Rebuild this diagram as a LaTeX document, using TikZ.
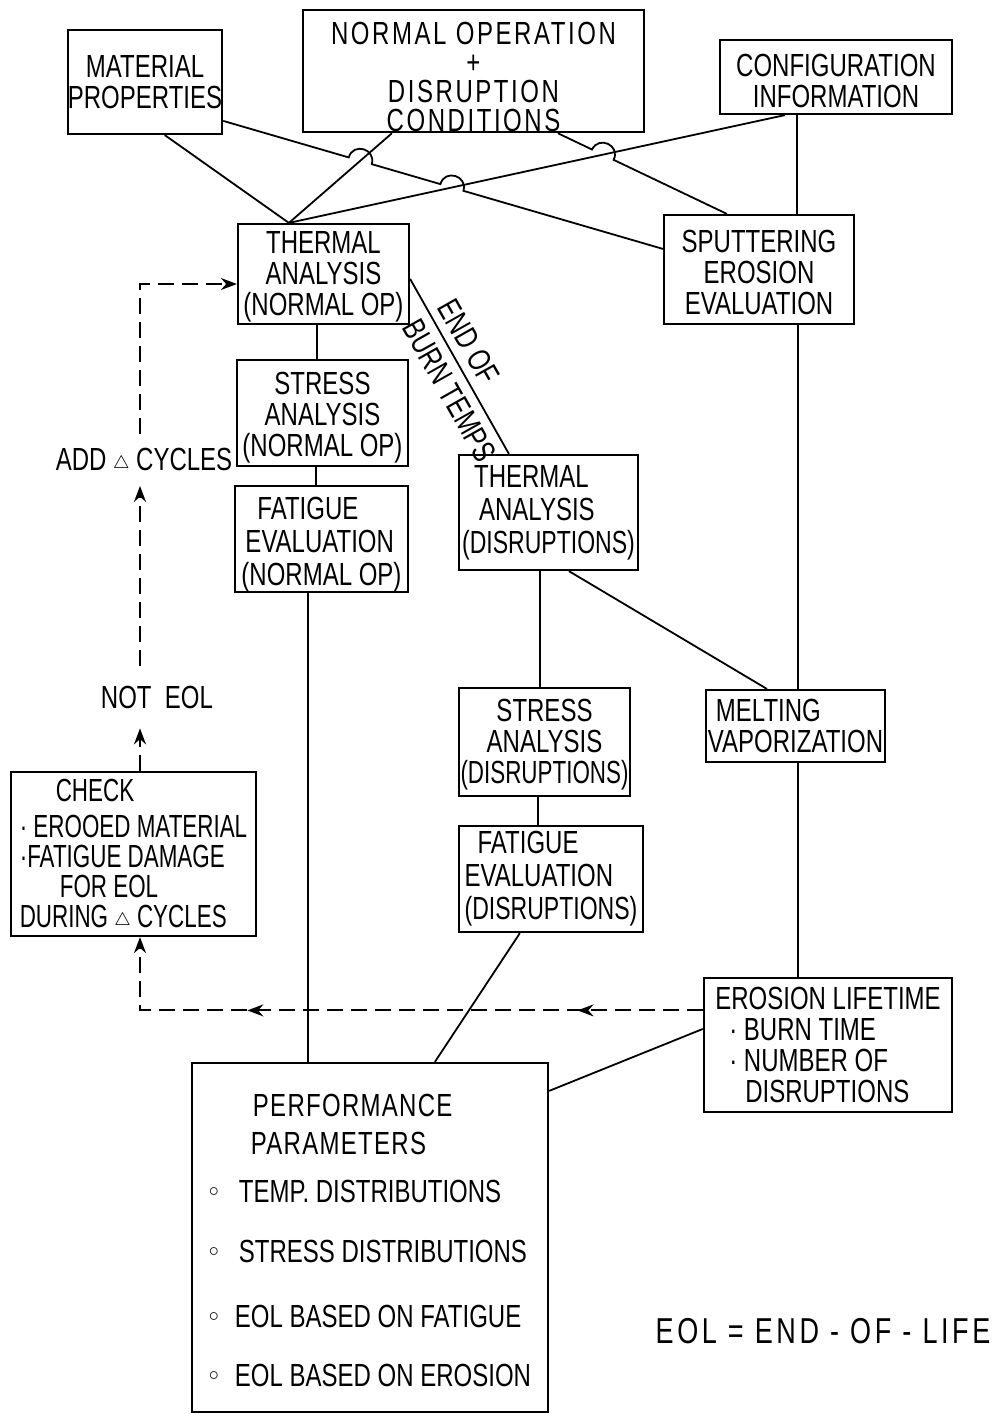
\documentclass[tikz,border=0pt]{standalone}
\usepackage{fontspec}
\setmainfont{Liberation Sans}[FakeStretch=0.75]
\newfontfamily\condf{Liberation Sans}[FakeStretch=0.7]
\newfontfamily\semif{Liberation Sans}[FakeStretch=0.72]
\usetikzlibrary{calc,arrows.meta,decorations.markings}
\newcommand\fs{\fontsize{16}{15.5}\selectfont}
\newcommand\tri{\raisebox{1pt}{\fontsize{9}{9}\selectfont$\triangle$}}
\newcommand\bul{\raisebox{3pt}{\fontsize{10}{10}\selectfont$\circ$}}
\newcommand\up[1]{\rule{0pt}{#1}}
\tikzset{
  box/.style={draw, line width=1.1pt, inner sep=0pt, align=center, font=\fs},
  lbl/.style={inner sep=0pt, align=center, font=\fs},
  conn/.style={line width=0.9pt},
  dsh/.style={line width=1pt, dash pattern=on 8pt off 4pt},
  tip/.style={-{Stealth[length=8pt,width=6pt]}},
}
\begin{document}
\begin{tikzpicture}[x=0.5pt,y=0.5pt]
\useasboundingbox (0,0) rectangle (997,-1414);
% boxes
\node[box, minimum width=77pt, minimum height=52pt] (mat) at (145,-82) {MATERIAL\\PROPERTIES};
\node[box, minimum width=170.5pt, minimum height=61pt, font={\fontsize{16}{14.5}\selectfont\addfontfeature{LetterSpace=8}}] (norm) at (473.5,-71) {\up{17.5pt}NORMAL OPERATION\\+\\DISRUPTION\\CONDITIONS};
\node[box, minimum width=116pt, minimum height=37pt] (conf) at (836,-77) {\up{15.5pt}CONFIGURATION\\INFORMATION};
\node[box, minimum width=85.5pt, minimum height=50pt] (ta) at (323.5,-274) {\up{13.5pt}THERMAL\\ANALYSIS\\(NORMAL OP)};
\node[box, minimum width=95pt, minimum height=54.5pt] (sp) at (759,-269.5) {\up{14.5pt}SPUTTERING\\EROSION\\EVALUATION};
\node[box, minimum width=85.5pt, minimum height=53pt] (sa) at (322.5,-413) {\up{15.5pt}STRESS\\ANALYSIS\\(NORMAL OP)};
\node[box, minimum width=86.5pt, minimum height=52pt, align=left] (fa) at (321.5,-539) {\up{16.5pt}\hspace*{8pt}FATIGUE\\[1pt]\hspace*{2pt}EVALUATION\\[1pt](NORMAL OP)};
\node[box, minimum width=89.5pt, minimum height=57.5pt, align=left] (td) at (548.5,-512.5) {\hspace*{6pt}THERMAL\\[1pt]\hspace*{8.5pt}ANALYSIS\\[1pt]{\semif(DISRUPTIONS)}};
\node[box, minimum width=85.5pt, minimum height=54pt] (sd) at (544.5,-742) {\up{13.5pt}STRESS\\ANALYSIS\\{\condf(DISRUPTIONS)}};
\node[box, minimum width=89.5pt, minimum height=36pt, align=left] (mv) at (795.5,-726) {\hspace*{4pt}MELTING\\VAPORIZATION};
\node[box, minimum width=92pt, minimum height=53pt, align=left] (fd) at (551,-879) {\hspace*{6.5pt}FATIGUE\\[1pt]EVALUATION\\[1pt]{\semif(DISRUPTIONS)}};
\node[box, minimum width=122.5pt, minimum height=82pt, align=left, font={\fontsize{16}{15}\condf}] (check) at (133.5,-854) {\hspace*{18pt}CHECK\\[3pt]· EROOED MATERIAL\\·FATIGUE DAMAGE\\\hspace*{20pt}FOR EOL\\DURING \tri\ CYCLES};
\node[box, minimum width=124pt, minimum height=67pt, align=left] (el) at (828,-1045) {EROSION LIFETIME\\\hspace*{7pt}· BURN TIME\\\hspace*{7pt}· NUMBER OF\\\hspace*{15pt}DISRUPTIONS};
\node[box, minimum width=178pt, minimum height=174.5pt, align=left] (perf) at (370,-1237.5) {\up{14.5pt}\hspace*{22pt}{\addfontfeature{LetterSpace=4}PERFORMANCE}\\[3.5pt]\hspace*{21pt}{\addfontfeature{LetterSpace=4}PARAMETERS}\\[8.5pt]\bul\hspace{10pt}TEMP. DISTRIBUTIONS\\[14.5pt]\bul\hspace{10pt}STRESS DISTRIBUTIONS\\[17pt]\bul\hspace{8pt}EOL BASED ON FATIGUE\\[14pt]\bul\hspace{8pt}EOL BASED ON EROSION};
% labels
\node[lbl, outer ysep=10pt] (noteol) at (157,-697) {NOT\ \ EOL};
\node[lbl, outer ysep=7pt] (addcyc) at (144,-460) {ADD \tri\ CYCLES};
\node[lbl, font={\fontsize{18}{18}\selectfont\addfontfeature{LetterSpace=10}}] (eol) at (823,-1331) {EOL = END - OF - LIFE};
% connector end points
\coordinate (m1a) at ($(mat.south west)+(98,0)$);
\coordinate (tatop) at ($(ta.north west)+(52,0)$);
\coordinate (m2a) at ($(mat.north east)+(0,-92)$);
\coordinate (m2b) at ($(sp.north west)+(0,-35)$);
\coordinate (n3a) at ($(norm.south west)+(90,0)$);
\coordinate (n4a) at ($(norm.south west)+(256,0)$);
\coordinate (n4b) at ($(sp.north west)+(64,0)$);
\coordinate (c5a) at ($(conf.south west)+(66,0)$);
\coordinate (h1) at (intersection of m2a--m2b and n3a--tatop);
\coordinate (h2) at (intersection of m2a--m2b and c5a--tatop);
\coordinate (h3) at (intersection of n4a--n4b and c5a--tatop);
\coordinate (v797) at (797,0);
\coordinate (v798) at (798,0);
\coordinate (v317) at (317,0);
\coordinate (v316) at (316,0);
\coordinate (v308) at (308,0);
\coordinate (v540) at (540,0);
\coordinate (v538) at (538,0);
\coordinate (ta3) at ($(ta.north east)+(0,-56)$);
\coordinate (td1) at ($(td.north west)+(51,0)$);
\coordinate (td2) at ($(td.south west)+(111,0)$);
\coordinate (mv1) at ($(mv.north west)+(62,0)$);
\coordinate (fd1) at ($(fd.south west)+(62,0)$);
\coordinate (pf1) at ($(perf.north west)+(244,0)$);
\coordinate (el1) at ($(el.north west)+(0,-52)$);
\coordinate (pf2) at ($(perf.north east)+(0,-29)$);
\coordinate (elw) at ($(el.north west)+(0,-33.5)$);
\coordinate (col) at (140,0);
\coordinate (tad) at ($(ta.west)+(0,-10)$);
% solid connectors
\draw[conn] (m1a) -- (tatop);
\draw[conn] (n3a) -- (tatop);
\draw[conn] (c5a) -- (tatop);
\draw[conn] (m2a) -- ($(h1)!6pt!(m2a)$) to[out=74,in=74,looseness=1.7] ($(h1)!6pt!(m2b)$)
  -- ($(h2)!6pt!(m2a)$) to[out=74,in=74,looseness=1.7] ($(h2)!6pt!(m2b)$) -- (m2b);
\draw[conn] (n4a) -- ($(h3)!6pt!(n4a)$) to[out=64,in=64,looseness=1.7] ($(h3)!6pt!(n4b)$) -- (n4b);
\draw[conn] (conf.south -| v797) -- (sp.north -| v797);
\draw[conn] (sp.south -| v798) -- (mv.north -| v798);
\draw[conn] (mv.south -| v798) -- (el.north -| v798);
\draw[conn] (ta.south -| v317) -- (sa.north -| v317);
\draw[conn] (sa.south -| v316) -- (fa.north -| v316);
\draw[conn] (fa.south -| v308) -- (perf.north -| v308);
\draw[conn] (ta3) -- (td1) node[pos=0.58, sloped, lbl, align=left] {END OF\\[5pt]BURN TEMPS};
\draw[conn] (td.south -| v540) -- (sd.north -| v540);
\draw[conn] (td2) -- (mv1);
\draw[conn] (sd.south -| v538) -- (fd.north -| v538);
\draw[conn] (fd1) -- (pf1);
\draw[conn] (el1) -- (pf2);
% dashed feedback
\draw[dsh, tip, postaction={decorate}, decoration={markings,
   mark=at position 0.197 with {\arrow{Stealth[length=8pt,width=6pt]}},
   mark=at position 0.716 with {\arrow{Stealth[length=8pt,width=6pt]}}}]
  (elw) -- (elw -| col) -- (check.south -| col);
\draw[dsh, tip] (check.north -| col) -- (noteol.south -| col);
\draw[dsh, tip] (noteol.north -| col) -- (addcyc.south -| col);
\draw[dsh, tip] (addcyc.north -| col) -- (col |- tad) -- (tad);
\end{tikzpicture}
\end{document}
